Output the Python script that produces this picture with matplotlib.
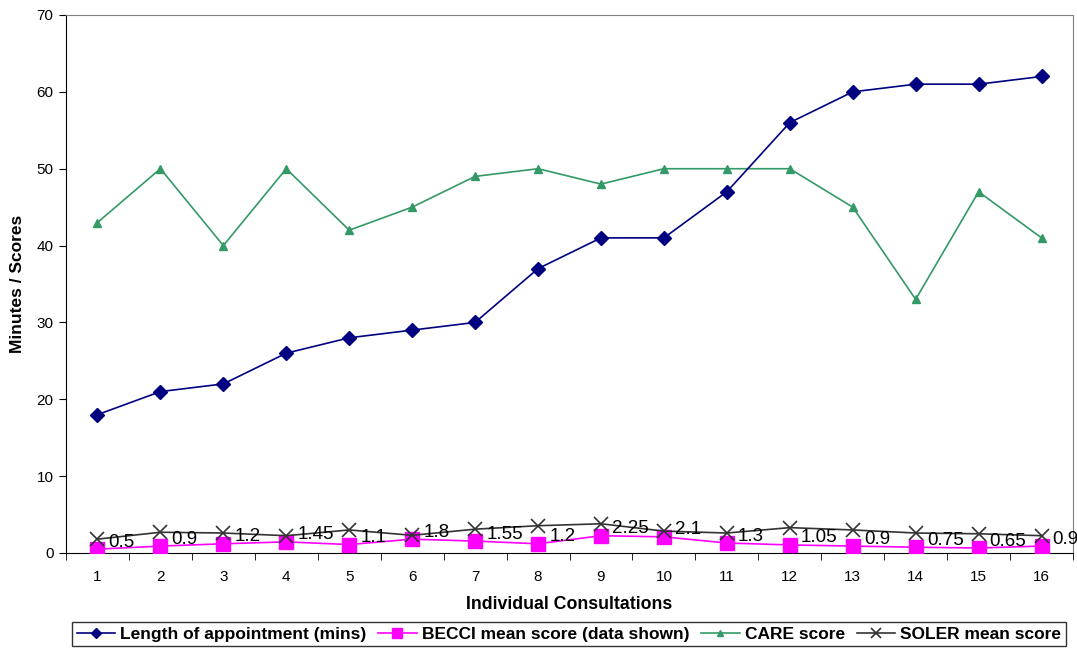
import matplotlib
matplotlib.use("Agg")
import matplotlib.pyplot as plt
import numpy as np

plt.rcParams['font.family'] = ['Liberation Sans', 'DejaVu Sans']

consultations = list(range(1, 17))
length_mins = [18, 21, 22, 26, 28, 29, 30, 37, 41, 41, 47, 56, 60, 61, 61, 62]
becci = [0.5, 0.9, 1.2, 1.45, 1.1, 1.8, 1.55, 1.2, 2.25, 2.1, 1.3, 1.05, 0.9, 0.75, 0.65, 0.9]
care = [43, 50, 40, 50, 42, 45, 49, 50, 48, 50, 50, 50, 45, 33, 47, 41]
soler = [1.8, 2.7, 2.6, 2.25, 3.0, 2.3, 3.1, 3.55, 3.8, 2.85, 2.6, 3.3, 3.0, 2.6, 2.5, 2.25]
becci_labels = ["0.5", "0.9", "1.2", "1.45", "1.1", "1.8", "1.55", "1.2", "2.25", "2.1",
                "1.3", "1.05", "0.9", "0.75", "0.65", "0.9"]

fig = plt.figure(figsize=(10.77, 6.48), dpi=100)
ax = fig.add_axes([66/1077, 1-553/648, (1073-66)/1077, (553-15)/648])

x = np.array(consultations)
ax.plot(x, length_mins, color='#000080', lw=1.2, marker='D', ms=7.5,
        label='Length of appointment (mins)', zorder=4)
ax.plot(x, becci, color='#FF00FF', lw=1.2, marker='s', ms=9.5,
        label='BECCI mean score (data shown)', zorder=3)
ax.plot(x, care, color='#339966', lw=1.2, marker='^', ms=6,
        label='CARE score', zorder=3)
ax.plot(x, soler, color='#333333', lw=1.2, marker='x', ms=10.5, mew=1.2,
        label='SOLER mean score', zorder=3)

for xi, v, lab in zip(x, becci, becci_labels):
    ax.annotate(lab, (xi, v), xytext=(8, 5), textcoords='offset points',
                fontsize=13.5, va='center', ha='left', color='black', zorder=5)

ax.set_xlim(0.5, 16.5)
ax.set_ylim(0, 70)
ax.set_yticks(range(0, 71, 10))
ax.set_xticks(x)
ax.set_xticks(np.arange(0.5, 16.6, 1), minor=True)
ax.tick_params(axis='x', which='major', length=0, pad=12, labelsize=11)
ax.tick_params(axis='x', which='minor', length=5, direction='out')
ax.tick_params(axis='y', which='major', length=5, direction='out', labelsize=11, pad=4)

for s in ['top', 'right']:
    ax.spines[s].set_color('#808080')
for s in ['left', 'bottom']:
    ax.spines[s].set_color('black')

ax.set_xlabel('Individual Consultations', fontsize=12.8, fontweight='bold', labelpad=9)
ax.set_ylabel('Minutes / Scores', fontsize=12.5, fontweight='bold', labelpad=8)

leg = fig.legend(loc='center', bbox_to_anchor=(569/1077, 1-634/648), ncol=4,
                 frameon=True, fancybox=False, edgecolor='black',
                 prop={'weight': 'bold', 'size': 12.5}, handlelength=2.2,
                 handletextpad=0.3, columnspacing=0.7, borderpad=0.25,
                 markerscale=0.7)
leg.get_frame().set_linewidth(1.0)

fig.savefig('out.png', dpi=100)
